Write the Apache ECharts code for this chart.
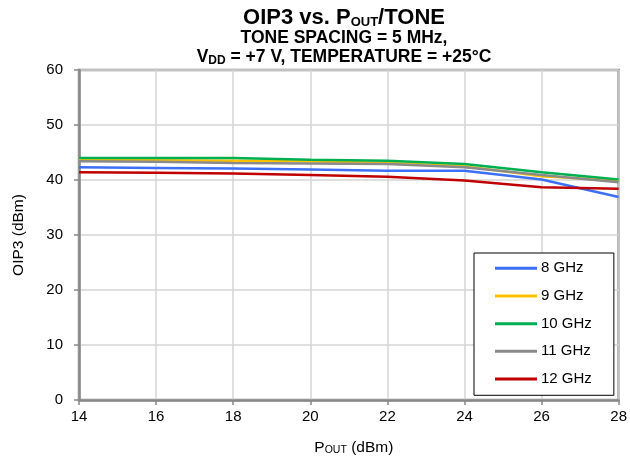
<!DOCTYPE html>
<html>
<head>
<meta charset="utf-8">
<script src="https://cdn.jsdelivr.net/npm/echarts@6/dist/echarts.min.js"></script>
<style>
  html, body { margin: 0; padding: 0; background: #fff; }
  #chart { width: 630px; height: 461px; }
</style>
</head>
<body>
<div id="chart"></div>
<script>
const pout = [14, 16, 18, 20, 22, 24, 26, 28];
const ghz8 = [42.3, 42.2, 42.1, 41.9, 41.7, 41.7, 40.1, 36.9];
const ghz9 = [43.7, 43.6, 43.5, 43.4, 43.1, 42.5, 40.7, 39.9];
const ghz10 = [44.0, 44.0, 44.0, 43.7, 43.5, 42.9, 41.4, 40.1];
const ghz11 = [43.4, 43.3, 43.1, 43.0, 42.9, 42.3, 40.9, 39.6];
const ghz12 = [41.4, 41.3, 41.2, 40.9, 40.6, 39.9, 38.7, 38.4];
const seriesNames = ["8 GHz", "9 GHz", "10 GHz", "11 GHz", "12 GHz"];
const seriesColors = ["#3c6ff5", "#ffc000", "#00b050", "#8a8a8a", "#c00000"];
const yTicks = [0, 10, 20, 30, 40, 50, 60];

const font = "Liberation Sans, Arial, sans-serif";
const allData = [ghz8, ghz9, ghz10, ghz11, ghz12];

const myChart = echarts.init(document.getElementById("chart"));
myChart.setOption({
  animation: false,
  textStyle: { fontFamily: font },
  title: {
    left: 339,
    top: 2,
    textAlign: "center",
    text: "{t|OIP3 vs. P}{ts|OUT}{t|/TONE}\n{m|TONE SPACING = 5 MHz,}\n{m|V}{ms|DD}{m| = +7 V, TEMPERATURE = +25°C}",
    textStyle: {
      rich: {
        t: { fontFamily: font, fontWeight: "bold", fontSize: 22, lineHeight: 22, color: "#000" },
        ts: { fontFamily: font, fontWeight: "bold", fontSize: 13, lineHeight: 6, verticalAlign: "bottom", color: "#000" },
        m: { fontFamily: font, fontWeight: "bold", fontSize: 17.5, lineHeight: 19, color: "#000" },
        ms: { fontFamily: font, fontWeight: "bold", fontSize: 12, lineHeight: 5, verticalAlign: "bottom", color: "#000" }
      }
    }
  },
  grid: {
    left: 79,
    right: 9,
    top: 70,
    bottom: 61,
    containLabel: false,
    show: true,
    borderColor: "#888",
    borderWidth: 2.5
  },
  legend: {
    orient: "vertical",
    left: 474,
    top: 253,
    padding: [7, 22, 8, 21],
    itemWidth: 42,
    itemHeight: 3,
    itemGap: 11.2,
    icon: "rect",
    borderColor: "#000",
    borderWidth: 1,
    backgroundColor: "#fff",
    textStyle: { fontFamily: font, fontSize: 15, color: "#000", lineHeight: 16.5, padding: [0, 0, 0, -1] },
    data: seriesNames
  },
  xAxis: {
    type: "value",
    min: 14,
    max: 28,
    interval: 2,
    name: "P{s|OUT} (dBm)",
    nameLocation: "middle",
    nameGap: 40,
    nameTextStyle: {
      fontFamily: font,
      fontSize: 15.5,
      color: "#000",
      padding: [0, 0, 0, 10],
      rich: {
        s: { fontFamily: font, fontSize: 10.5, lineHeight: 6, verticalAlign: "bottom", color: "#000" }
      }
    },
    axisLine: { show: true, lineStyle: { color: "#888", width: 2.5 } },
    axisTick: { show: true, length: 5, lineStyle: { color: "#888", width: 1.5 } },
    axisLabel: { fontFamily: font, fontSize: 15, color: "#000", margin: 9 },
    splitLine: { show: true, lineStyle: { color: "#d4d4d4", width: 1.5 } }
  },
  yAxis: {
    type: "value",
    min: 0,
    max: 60,
    interval: 10,
    name: "OIP3 (dBm)",
    nameLocation: "middle",
    nameGap: 52,
    nameTextStyle: { fontFamily: font, fontSize: 15.5, color: "#000" },
    axisLine: { show: true, lineStyle: { color: "#888", width: 2.5 } },
    axisTick: { show: true, length: 5, lineStyle: { color: "#888", width: 1.5 } },
    axisLabel: {
      fontFamily: font,
      fontSize: 15,
      color: "#000",
      margin: 16,
      formatter: v => (yTicks.indexOf(v) >= 0 ? String(v) : "")
    },
    splitLine: { show: true, lineStyle: { color: "#d4d4d4", width: 1.5 } }
  },
  series: seriesNames.map((name, i) => ({
    name,
    type: "line",
    showSymbol: false,
    symbol: "none",
    color: seriesColors[i],
    lineStyle: { width: 2.5, color: seriesColors[i] },
    data: pout.map((x, j) => [x, allData[i][j]])
  }))
});
</script>
</body>
</html>
